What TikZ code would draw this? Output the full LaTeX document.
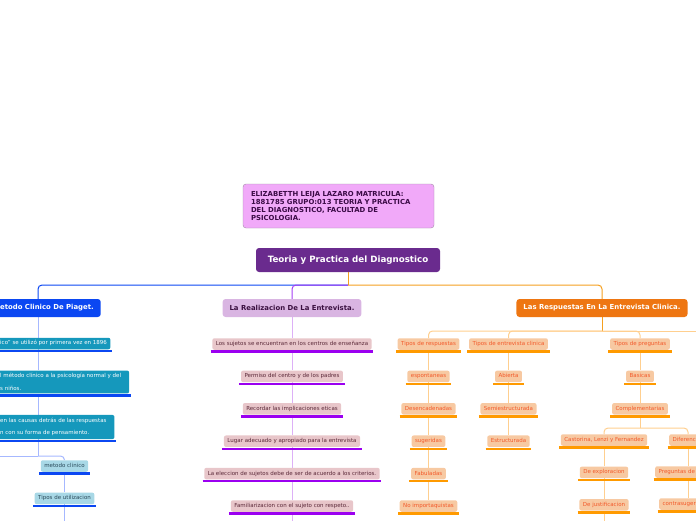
\documentclass[tikz,border=0pt]{standalone}
\usepackage{fontspec}
\setmainfont{DejaVu Sans}
\usetikzlibrary{positioning,backgrounds}
\definecolor{infoFill}{HTML}{F1A9F9}
\definecolor{infoDraw}{HTML}{A08CA6}
\definecolor{infoText}{HTML}{3B0B46}
\definecolor{mainFill}{HTML}{6A2B8E}
\definecolor{pgBlue}{HTML}{0B47F2}
\definecolor{pgBlueSoft}{HTML}{A6B8FF}
\definecolor{pgTeal}{HTML}{1598BC}
\definecolor{pgSky}{HTML}{A8D8E6}
\definecolor{pgSkyText}{HTML}{2A4A5A}
\definecolor{reHead}{HTML}{D9B5E2}
\definecolor{reHeadText}{HTML}{3A1040}
\definecolor{reLine}{HTML}{A53DF5}
\definecolor{reLineSoft}{HTML}{DDB0F7}
\definecolor{reLeaf}{HTML}{E8C6CA}
\definecolor{reLeafText}{HTML}{5A2838}
\definecolor{reUnder}{HTML}{9B00F0}
\definecolor{rsHead}{HTML}{EE7612}
\definecolor{rsLine}{HTML}{F5A020}
\definecolor{rsLineSoft}{HTML}{FFCF8F}
\definecolor{rsLeaf}{HTML}{F7C9A2}
\definecolor{rsLeafText}{HTML}{F2592A}
\definecolor{rsUnder}{HTML}{FF9A00}

\begin{document}
\begin{tikzpicture}[x=1pt,y=-1pt,
info/.style={draw=infoDraw,fill=infoFill,text=infoText,rounded corners=3pt,align=left,text width=175pt,inner xsep=8pt,font=\fontsize{6.9}{8.3}\selectfont\bfseries,minimum height=44pt},
root/.style={fill=mainFill,text=white,rounded corners=3pt,font=\fontsize{8.7}{10}\selectfont\bfseries,minimum width=184pt,minimum height=24pt},
head/.style={rounded corners=3pt,font=\fontsize{6.9}{8}\selectfont\bfseries,minimum height=18pt,inner xsep=7pt},
leaf/.style={rounded corners=2pt,font=\fontsize{5.5}{6.6}\selectfont,minimum height=11.5pt,inner xsep=3.5pt,inner ysep=1pt,text height=4.1pt,text depth=1.2pt},
tleaf/.style={leaf,fill=pgTeal,text=white},
tmulti/.style={tleaf,text height={},text depth={},font=\fontsize{5.5}{12.5}\selectfont,align=left,inner xsep=8pt,inner ysep=3pt},
sleaf/.style={leaf,fill=pgSky,text=pgSkyText},
rleaf/.style={leaf,fill=reLeaf,text=reLeafText},
oleaf/.style={leaf,fill=rsLeaf,text=rsLeafText},
blueLine/.style={pgBlue,line width=1pt},
blueSoft/.style={pgBlueSoft,line width=1pt},
purpleLine/.style={reLine,line width=1pt},
purpleSoft/.style={reLineSoft,line width=1pt},
orangeLine/.style={rsLine,line width=1pt},
orangeSoft/.style={rsLineSoft,line width=1pt},
ulBlue/.style={pgBlue,line width=2.5pt},
ulPurple/.style={reUnder,line width=2.5pt},
ulOrange/.style={rsUnder,line width=2.5pt}
]
\useasboundingbox (0,0) rectangle (696,520);
\clip (0,0) rectangle (696,520);

\node[info] (info) at (338.5,206) {ELIZABETTH LEIJA LAZARO MATRICULA:\\1881785 GRUPO:013 TEORIA Y PRACTICA\\DEL DIAGNOSTICO, FACULTAD DE\\PSICOLOGIA.};
\node[root] (main) at (348,260) {Teoria y Practica del Diagnostico};

% rama izquierda
\node[head,fill=pgBlue,text=white,anchor=west] (pia) at (-7,308) {etodo Clinico De Piaget.};
\node[tleaf,anchor=west] (t1) at (-3.5,343.5) {ico" se utilizó por primera vez en 1896};
\node[tmulti,anchor=west] (t2) at (-8,382) {l método clínico a la psicología normal y del\\s niños.};
\node[tmulti,anchor=west] (t3) at (-8,427) {en las causas detrás de las respuestas\\n con su forma de pensamiento.};
\node[sleaf] (mc) at (64.5,466) {metodo clinico};
\node[sleaf,below=20.5pt of mc] (tu) {Tipos de utilizacion};

% rama central
\node[head,fill=reHead,text=reHeadText] (rea) at (292,308) {La Realizacion De La Entrevista.};
\node[rleaf] (l1) at (292,344) {Los sujetos se encuentran en los centros de enseñanza};
\node[rleaf,below=20.5pt of l1] (l2) {Permiso del centro y de los padres};
\node[rleaf,below=20.5pt of l2] (l3) {Recordar las implicaciones eticas};
\node[rleaf,below=20.5pt of l3] (l4) {Lugar adecuado y apropiado para la entrevista};
\node[rleaf,below=20.5pt of l4] (l5) {La eleccion de sujetos debe de ser de acuerdo a los criterios.};
\node[rleaf,below=20.5pt of l5] (l6) {Familiarizacion con el sujeto con respeto..};

% rama derecha
\node[head,fill=rsHead,text=white] (res) at (602,308) {Las Respuestas En La Entrevista Clinica.};
\node[oleaf] (tr) at (428.5,344) {Tipos de respuestas};
\node[oleaf,below=20.5pt of tr] (es) {espontaneas};
\node[oleaf,below=20.5pt of es] (de) {Desencadenadas};
\node[oleaf,below=20.5pt of de] (su) {sugeridas};
\node[oleaf,below=20.5pt of su] (fa) {Fabuladas};
\node[oleaf,below=20.5pt of fa] (ni) {No importaquistas};
\node[oleaf] (te) at (508.5,344) {Tipos de entrevista clinica};
\node[oleaf,below=20.5pt of te] (ab) {Abierta};
\node[oleaf,below=20.5pt of ab] (se) {Semiestructurada};
\node[oleaf,below=20.5pt of se] (et) {Estructurada};
\node[oleaf] (tp) at (640,344) {Tipos de preguntas};
\node[oleaf,below=20.5pt of tp] (ba) {Basicas};
\node[oleaf,below=20.5pt of ba] (co) {Complementarias};
\node[oleaf] (ca) at (604,440) {Castorina, Lenzi y Fernandez};
\node[oleaf,below=20.5pt of ca] (ex) {De exploracion};
\node[oleaf,below=20.5pt of ex] (ju) {De justificacion};
\node[oleaf,anchor=west] (dif) at (669,440) {Diferenc};
\node[oleaf,anchor=west] (pr) at (655,472) {Preguntas de};
\node[oleaf,anchor=west] (cs) at (659,504) {contrasuger};

\coordinate (mj) at (348,285);
\coordinate (bcol) at (38,285);
\coordinate (bj) at (38,456);
\coordinate (bend) at (-20,456);
\coordinate (bbot) at (64.5,530);
\coordinate (rbot) at (292,530);
\coordinate (oj) at (602,331);
\coordinate (oend) at (720,331);
\coordinate (cj) at (640,428);
\coordinate (dcol) at (688,428);
\coordinate (cbot) at (604,530);

\begin{scope}[on background layer]
\draw[orangeLine] (main.south) -- (mj);
\draw[blueLine,rounded corners=4pt] (mj) -| (pia.north -| bcol);
\draw[purpleLine,rounded corners=4pt] (mj) -| (rea.north);
\draw[orangeLine,rounded corners=4pt] (mj) -| (res.north);
% piaget
\foreach \a/\b in {pia/t1,t1/t2,t2/t3}
\draw[blueSoft] (\a.south -| bcol) -- (\b.north -| bcol);
\draw[blueSoft] (t3.south -| bcol) -- (bj);
\draw[blueSoft] (bj) -- (bend);
\draw[blueSoft,rounded corners=4pt] (bj) -| (mc.north);
\draw[blueSoft] (mc.south) -- (tu.north);
\draw[blueSoft] (tu.south) -- (bbot);
% entrevista
\foreach \a/\b in {rea/l1,l1/l2,l2/l3,l3/l4,l4/l5,l5/l6}
\draw[purpleSoft] (\a.south) -- (\b.north);
\draw[purpleSoft] (l6.south) -- (rbot);
% respuestas
\draw[orangeLine] (res.south) -- (oj);
\foreach \c in {tr,te,tp}
\draw[orangeSoft,rounded corners=4pt] (oj) -| (\c.north);
\draw[orangeSoft] (oj) -- (oend);
\foreach \a/\b in {tr/es,es/de,de/su,su/fa,fa/ni,te/ab,ab/se,se/et,tp/ba,ba/co,ca/ex,ex/ju}
\draw[orangeSoft] (\a.south) -- (\b.north);
\draw[orangeSoft] (co.south) -- (cj);
\draw[orangeSoft,rounded corners=4pt] (cj) -| (ca.north);
\draw[orangeSoft,rounded corners=4pt] (cj) -| (dif.north -| dcol);
\draw[orangeSoft] (dif.south -| dcol) -- (pr.north -| dcol);
\draw[orangeSoft] (pr.south -| dcol) -- (cs.north -| dcol);
\draw[orangeSoft] (ju.south) -- (cbot);
\end{scope}

% subrayados
\foreach \n in {t1,t2,t3,mc,tu}
\draw[ulBlue] ([xshift=-1.5pt,yshift=-1.6pt]\n.south west) -- ([xshift=1.5pt,yshift=-1.6pt]\n.south east);
\foreach \n in {l1,l2,l3,l4,l5,l6}
\draw[ulPurple] ([xshift=-1.5pt,yshift=-1.6pt]\n.south west) -- ([xshift=1.5pt,yshift=-1.6pt]\n.south east);
\foreach \n in {tr,es,de,su,fa,ni,te,ab,se,et,tp,ba,co,ca,ex,ju,dif,pr,cs}
\draw[ulOrange] ([xshift=-1.5pt,yshift=-1.6pt]\n.south west) -- ([xshift=1.5pt,yshift=-1.6pt]\n.south east);
\end{tikzpicture}
\end{document}
